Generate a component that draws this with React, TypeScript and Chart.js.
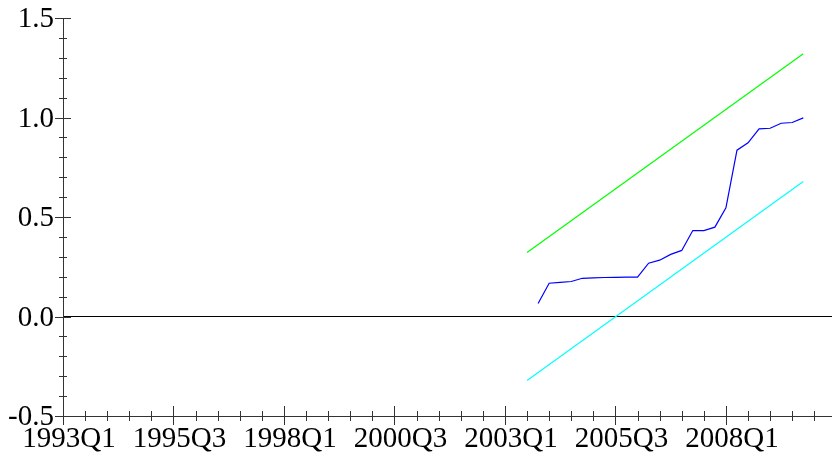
import React, { useEffect, useRef } from "react";
import { Chart, registerables } from "chart.js";

Chart.register(...registerables);

// x-axis tick labels (every 10 quarters starting 1993Q1)
const xTickLabels = ["1993Q1", "1995Q3", "1998Q1", "2000Q3", "2003Q1", "2005Q3", "2008Q1"];

// periods of the CUSUMSQ series
const periods = [
  "2003Q4", "2004Q1", "2004Q2", "2004Q3", "2004Q4", "2005Q1", "2005Q2", "2005Q3", "2005Q4",
  "2006Q1", "2006Q2", "2006Q3", "2006Q4", "2007Q1", "2007Q2", "2007Q3", "2007Q4",
  "2008Q1", "2008Q2", "2008Q3", "2008Q4", "2009Q1", "2009Q2", "2009Q3", "2009Q4",
];
const cusumsq = [
  0.065, 0.167, 0.171, 0.176, 0.192, 0.194, 0.196, 0.197, 0.198,
  0.198, 0.268, 0.283, 0.312, 0.332, 0.432, 0.432, 0.449,
  0.546, 0.836, 0.873, 0.943, 0.946, 0.971, 0.975, 0.998,
];

// confidence band end points
const bandPeriods = ["2003Q3", "2009Q4"];
const upperBand = [0.322, 1.32];
const lowerBand = [-0.322, 0.678];

// y range
const yMin = -0.5;
const yMax = 1.5;

const quarterIndex = (p: string) =>
  (parseInt(p.slice(0, 4), 10) - 1993) * 4 + parseInt(p.slice(5), 10) - 1;

const FONT = { family: "'Liberation Serif', 'Times New Roman', serif", size: 29 };

const crossTicks = {
  id: "crossTicks",
  afterDraw(chart: any) {
    const ctx = chart.ctx;
    const xs = chart.scales.x;
    const ys = chart.scales.y;
    const area = chart.chartArea;
    ctx.save();
    ctx.strokeStyle = "#333";
    ctx.lineWidth = 1;
    ctx.beginPath();
    xs.ticks.forEach((t: any) => {
      const px = Math.round(xs.getPixelForValue(t.value)) + 0.5;
      const major = Math.round(t.value) % 10 === 0;
      const up = major ? 10 : 5;
      const dn = major ? 9 : 5;
      const y0 = Math.round(area.bottom);
      ctx.moveTo(px, y0 - up);
      ctx.lineTo(px, y0 + dn);
    });
    ys.ticks.forEach((t: any) => {
      const py = Math.round(ys.getPixelForValue(t.value)) + 0.5;
      const v2 = t.value * 2;
      const major = Math.abs(v2 - Math.round(v2)) < 1e-9;
      const l = major ? 8 : 4;
      const r = major ? 8 : 4;
      const x0 = Math.round(area.left);
      ctx.moveTo(x0 - l, py);
      ctx.lineTo(x0 + r, py);
    });
    ctx.stroke();
    ctx.restore();
  },
};

export default function App() {
  const ref = useRef<HTMLCanvasElement>(null);

  useEffect(() => {
    document.body.style.margin = "0";
    if (!ref.current) return;
    const chart = new Chart(ref.current, {
      type: "line",
      data: {
        datasets: [
          {
            label: "CUSUMSQ",
            data: periods.map((p, i) => ({ x: quarterIndex(p), y: cusumsq[i] })),
            borderColor: "#0000ff",
            borderWidth: 1.2,
            pointRadius: 0,
            tension: 0,
          },
          {
            label: "upper",
            data: bandPeriods.map((p, i) => ({ x: quarterIndex(p), y: upperBand[i] })),
            borderColor: "#00ff00",
            borderWidth: 1.2,
            pointRadius: 0,
            tension: 0,
          },
          {
            label: "lower",
            data: bandPeriods.map((p, i) => ({ x: quarterIndex(p), y: lowerBand[i] })),
            borderColor: "#00ffff",
            borderWidth: 1.2,
            pointRadius: 0,
            tension: 0,
          },
        ],
      },
      options: {
        animation: false,
        responsive: false,
        events: [],
        layout: { padding: { top: 18, left: 0, right: 0, bottom: 0 } },
        plugins: { legend: { display: false }, tooltip: { enabled: false } },
        scales: {
          x: {
            type: "linear",
            min: 0,
            max: 69.6,
            afterBuildTicks: (scale: any) => {
              const arr = [];
              for (let v = 0; v <= 68; v += 2) arr.push({ value: v });
              scale.ticks = arr;
            },
            afterFit: (scale: any) => {
              scale.height = 50;
              scale.paddingLeft = 0;
              scale.paddingRight = 0;
            },
            grid: { display: false, drawTicks: false },
            border: { display: true, color: "#333", width: 1 },
            ticks: {
              autoSkip: false,
              maxRotation: 0,
              minRotation: 0,
              padding: 6,
              labelOffset: 6,
              color: "#000",
              font: FONT,
              callback: (v: any) => {
                const n = Math.round(Number(v));
                return n % 10 === 0 ? xTickLabels[n / 10] ?? "" : "";
              },
            },
          },
          y: {
            type: "linear",
            min: yMin,
            max: yMax,
            afterBuildTicks: (scale: any) => {
              const arr = [];
              for (let i = -5; i <= 15; i++) arr.push({ value: i / 10 });
              scale.ticks = arr;
            },
            afterFit: (scale: any) => {
              scale.width = 63;
              scale.paddingTop = 0;
              scale.paddingBottom = 0;
            },
            grid: {
              display: true,
              drawTicks: false,
              drawOnChartArea: true,
              lineWidth: 1,
              color: (c: any) =>
                c.tick && Math.abs(c.tick.value) < 1e-9 ? "#000" : "rgba(0,0,0,0)",
            },
            border: { display: true, color: "#333", width: 1 },
            ticks: {
              autoSkip: false,
              padding: 9,
              labelOffset: 1.5,
              color: "#000",
              font: FONT,
              callback: (v: any) => {
                const n = Number(v);
                const v2 = n * 2;
                return Math.abs(v2 - Math.round(v2)) < 1e-9 ? n.toFixed(1) : "";
              },
            },
          },
        },
      },
      plugins: [crossTicks],
    } as any);
    return () => chart.destroy();
  }, []);

  return (
    <div style={{ width: 832, height: 466 }}>
      <canvas ref={ref} width={832} height={466} style={{ display: "block" }} />
    </div>
  );
}
